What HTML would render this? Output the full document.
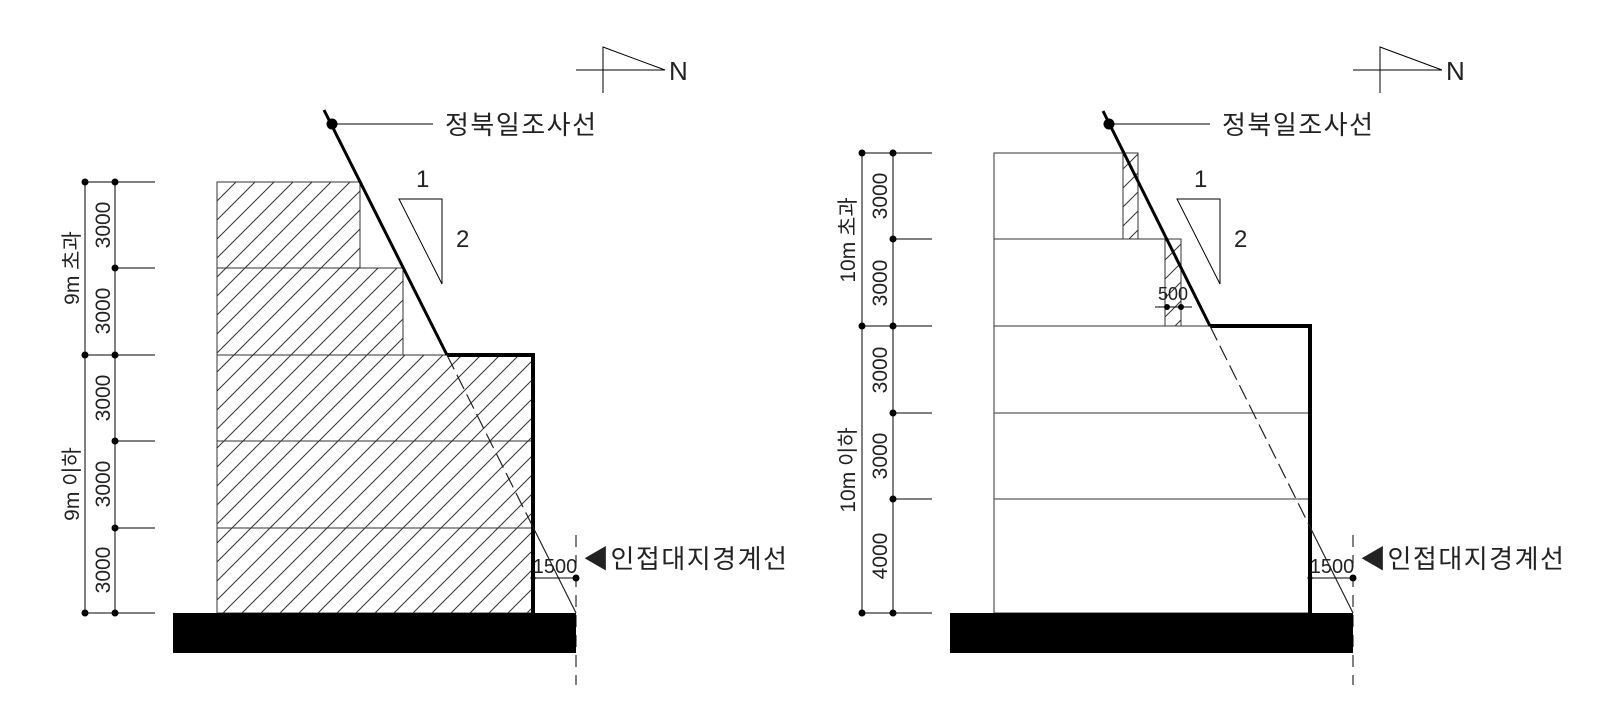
<!DOCTYPE html>
<html><head><meta charset="utf-8"><style>
html,body{margin:0;padding:0;background:#fff;}
svg{display:block;}
text{font-family:"Liberation Sans","Noto Sans CJK KR",sans-serif;fill:#222;}
</style></head><body>
<svg width="1600" height="715" viewBox="0 0 1600 715" xmlns="http://www.w3.org/2000/svg">
<defs>
<pattern id="h" patternUnits="userSpaceOnUse" width="19" height="19">
<path d="M-1,20 L20,-1 M-5,5 L5,-5 M14,24 L24,14" stroke="#333" stroke-width="1"/>
</pattern>
</defs>

<!-- ===== LEFT ===== -->
<g stroke="#000" fill="none" stroke-width="1">
<line x1="576" y1="70" x2="665" y2="70"/>
<line x1="603" y1="47" x2="603" y2="93"/>
<polygon points="603,47 665,70 603,70"/>
<line x1="85" y1="182" x2="85" y2="613"/>
<line x1="115" y1="182" x2="115" y2="613"/>
<line x1="85" y1="182" x2="155" y2="182"/>
<line x1="115" y1="268" x2="155" y2="268"/>
<line x1="85" y1="355" x2="155" y2="355"/>
<line x1="115" y1="441" x2="155" y2="441"/>
<line x1="115" y1="528" x2="155" y2="528"/>
<line x1="85" y1="613" x2="155" y2="613"/>
</g>
<g fill="#000">
<circle cx="85" cy="182" r="3.5"/><circle cx="115" cy="182" r="3.5"/>
<circle cx="115" cy="268" r="3.5"/>
<circle cx="85" cy="355" r="3.5"/><circle cx="115" cy="355" r="3.5"/>
<circle cx="115" cy="441" r="3.5"/><circle cx="115" cy="528" r="3.5"/>
<circle cx="85" cy="613" r="3.5"/><circle cx="115" cy="613" r="3.5"/>
</g>
<path d="M217,182 H360 V268 H403 V355 H533 V613 H217 Z" fill="url(#h)" stroke="#333" stroke-width="1"/>
<g stroke="#333" stroke-width="1">
<line x1="217" y1="268" x2="360" y2="268"/>
<line x1="217" y1="355" x2="403" y2="355"/>
<line x1="217" y1="441" x2="533" y2="441"/>
<line x1="217" y1="528" x2="533" y2="528"/>
</g>
<line x1="324" y1="110" x2="447" y2="355" stroke="#000" stroke-width="3"/>
<polyline points="447,355 533,355 533,613" fill="none" stroke="#000" stroke-width="4"/>
<line x1="447" y1="355" x2="533" y2="527" stroke="#222" stroke-width="1.2" stroke-dasharray="16,6"/>
<line x1="533" y1="527" x2="576" y2="613" stroke="#222" stroke-width="1.2"/>
<circle cx="332" cy="124" r="5.5" fill="#000"/>
<line x1="332" y1="124" x2="433" y2="124" stroke="#000"/>
<text x="445" y="134" font-size="26" letter-spacing="1.5">정북일조사선</text>
<polygon points="399,199 442,199 442,284" fill="none" stroke="#000"/>
<text x="416" y="187" font-size="24">1</text>
<text x="456" y="247" font-size="24">2</text>
<rect x="173" y="613" width="403" height="40" fill="#000"/>
<line x1="576" y1="535" x2="576" y2="685" stroke="#000" stroke-dasharray="12,8"/>
<line x1="533" y1="578" x2="576" y2="578" stroke="#000"/>
<circle cx="576" cy="578" r="3.5" fill="#000"/><circle cx="533" cy="578" r="2.5" fill="#000"/>
<text x="555" y="573" font-size="20" text-anchor="middle">1500</text>
<text x="583" y="568" font-size="26" letter-spacing="1.5">◀인접대지경계선</text>
<g font-size="21" text-anchor="middle">
<text transform="translate(110,225) rotate(-90)">3000</text>
<text transform="translate(110,311) rotate(-90)">3000</text>
<text transform="translate(110,398) rotate(-90)">3000</text>
<text transform="translate(110,484) rotate(-90)">3000</text>
<text transform="translate(110,570) rotate(-90)">3000</text>
<text transform="translate(79,268) rotate(-90)">9m 초과</text>
<text transform="translate(79,484) rotate(-90)">9m 이하</text>
</g>

<!-- ===== RIGHT ===== -->
<g stroke="#000" fill="none" stroke-width="1">
<line x1="1353" y1="70" x2="1442" y2="70"/>
<line x1="1380" y1="47" x2="1380" y2="93"/>
<polygon points="1380,47 1442,70 1380,70"/>
<line x1="862" y1="153" x2="862" y2="613"/>
<line x1="893" y1="153" x2="893" y2="613"/>
<line x1="862" y1="153" x2="932" y2="153"/>
<line x1="893" y1="239" x2="932" y2="239"/>
<line x1="862" y1="326" x2="932" y2="326"/>
<line x1="893" y1="413" x2="932" y2="413"/>
<line x1="893" y1="499" x2="932" y2="499"/>
<line x1="862" y1="613" x2="932" y2="613"/>
</g>
<g fill="#000">
<circle cx="862" cy="153" r="3.5"/><circle cx="893" cy="153" r="3.5"/>
<circle cx="893" cy="239" r="3.5"/>
<circle cx="862" cy="326" r="3.5"/><circle cx="893" cy="326" r="3.5"/>
<circle cx="893" cy="413" r="3.5"/><circle cx="893" cy="499" r="3.5"/>
<circle cx="862" cy="613" r="3.5"/><circle cx="893" cy="613" r="3.5"/>
</g>
<path d="M994,153 H1138 V239 H1181 V326 H1310 V613 H994 Z" fill="none" stroke="#333"/>
<rect x="1123" y="153" width="15" height="86" fill="url(#h)" stroke="#333"/>
<rect x="1165" y="239" width="16" height="87" fill="url(#h)" stroke="#333"/>
<g stroke="#333">
<line x1="994" y1="239" x2="1138" y2="239"/>
<line x1="994" y1="326" x2="1181" y2="326"/>
<line x1="994" y1="413" x2="1310" y2="413"/>
<line x1="994" y1="499" x2="1310" y2="499"/>
</g>
<line x1="1103" y1="111" x2="1210" y2="326" stroke="#000" stroke-width="3"/>
<polyline points="1210,326 1310,326 1310,613" fill="none" stroke="#000" stroke-width="4"/>
<line x1="1210" y1="326" x2="1310" y2="527" stroke="#222" stroke-width="1.2" stroke-dasharray="16,6"/>
<line x1="1310" y1="527" x2="1353" y2="613" stroke="#222" stroke-width="1.2"/>
<circle cx="1109" cy="124" r="5.5" fill="#000"/>
<line x1="1109" y1="124" x2="1210" y2="124" stroke="#000"/>
<text x="1222" y="134" font-size="26" letter-spacing="1.5">정북일조사선</text>
<polygon points="1177,199 1220,199 1220,284" fill="none" stroke="#000"/>
<text x="1194" y="187" font-size="24">1</text>
<text x="1234" y="247" font-size="24">2</text>
<line x1="1155" y1="307" x2="1192" y2="307" stroke="#000"/>
<circle cx="1167" cy="307" r="3" fill="#000"/><circle cx="1181" cy="307" r="3" fill="#000"/>
<text x="1173" y="300" font-size="18" text-anchor="middle">500</text>
<rect x="950" y="613" width="403" height="40" fill="#000"/>
<line x1="1353" y1="535" x2="1353" y2="685" stroke="#000" stroke-dasharray="12,8"/>
<line x1="1310" y1="578" x2="1353" y2="578" stroke="#000"/>
<circle cx="1353" cy="578" r="3.5" fill="#000"/><circle cx="1310" cy="578" r="2.5" fill="#000"/>
<text x="1332" y="573" font-size="20" text-anchor="middle">1500</text>
<text x="1360" y="568" font-size="26" letter-spacing="1.5">◀인접대지경계선</text>
<g font-size="21" text-anchor="middle">
<text transform="translate(887,196) rotate(-90)">3000</text>
<text transform="translate(887,283) rotate(-90)">3000</text>
<text transform="translate(887,370) rotate(-90)">3000</text>
<text transform="translate(887,456) rotate(-90)">3000</text>
<text transform="translate(887,556) rotate(-90)">4000</text>
<text transform="translate(855,240) rotate(-90)">10m 초과</text>
<text transform="translate(855,470) rotate(-90)">10m 이하</text>
</g>
<text x="669" y="80" font-size="26">N</text>
<text x="1446" y="80" font-size="26">N</text>
</svg>
</body></html>
